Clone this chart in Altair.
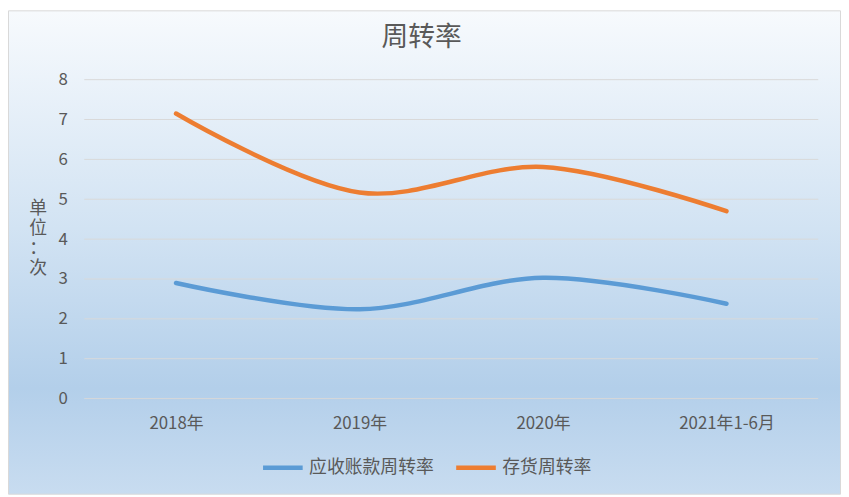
import altair as alt
import pandas as pd

categories = ["2018年", "2019年", "2020年", "2021年1-6月"]
receivable_turnover = [2.90, 2.24, 3.03, 2.38]
inventory_turnover = [7.15, 5.17, 5.81, 4.70]
series_names = ["应收账款周转率", "存货周转率"]
series_colors = ["#5B9BD5", "#ED7D31"]
y_ticks = [0, 1, 2, 3, 4, 5, 6, 7, 8]

FONT = "Noto Sans CJK SC"
TEXT = "#595959"
W, H = 741, 322
PL, PT, PR, PB = 77, 70, 23, 97

rows = []
for c, a, b in zip(categories, receivable_turnover, inventory_turnover):
    rows.append({"cat": c, "series": series_names[0], "value": a})
    rows.append({"cat": c, "series": series_names[1], "value": b})
df = pd.DataFrame(rows)
grid_df = pd.DataFrame({"value": y_ticks})
bg_df = pd.DataFrame({"k": [0]})

y_scale = alt.Scale(domain=[0, 8], nice=False, zero=True)
y_axis = alt.Axis(
    values=y_ticks, grid=False, domain=False, ticks=False, zindex=2,
    labelFontSize=17, labelColor=TEXT, labelPadding=17, labelFont=FONT,
    title=["单", "位", "：", "次"], titleAngle=0, titleX=-47, titleY=130,
    titleAlign="center", titleBaseline="middle", titleLineHeight=20.3,
    titleFontSize=18, titleColor=TEXT, titleFontWeight="normal", titleFont=FONT,
)

gradient = alt.LinearGradient(
    gradient="linear", x1=0, y1=0, x2=0, y2=1,
    stops=[
        alt.GradientStop(offset=0, color="#f7fafd"),
        alt.GradientStop(offset=0.45, color="#d2e3f3"),
        alt.GradientStop(offset=0.78, color="#b3cfea"),
        alt.GradientStop(offset=1, color="#c8dcf0"),
    ],
)

bg = alt.Chart(bg_df).mark_rect(fill=gradient, stroke="#d9d9d9", strokeWidth=1).encode(
    x=alt.value(-PL + 0.5), x2=alt.value(W + PR - 0.5),
    y=alt.value(-PT + 0.5), y2=alt.value(H + PB - 0.5),
)

grid = alt.Chart(grid_df).mark_rule(color="#d9d9d9", strokeWidth=1).encode(
    y=alt.Y("value:Q", scale=y_scale, axis=y_axis),
    x=alt.value(0), x2=alt.value(W),
)

lines = alt.Chart(df).mark_line(
    interpolate="catmull-rom", strokeWidth=4.5, strokeCap="round"
).encode(
    x=alt.X("cat:N", sort=categories, scale=alt.Scale(type="point", padding=0.5),
            axis=alt.Axis(title=None, labelAngle=0, domain=False, ticks=False, grid=False,
                          zindex=2, labelFontSize=17, labelColor=TEXT, labelPadding=17,
                          labelFont=FONT)),
    y=alt.Y("value:Q", scale=y_scale, axis=y_axis),
    color=alt.Color("series:N", scale=alt.Scale(domain=series_names, range=series_colors),
                    sort=series_names,
                    legend=alt.Legend(
                        title=None, orient="none", legendX=178, legendY=369, zindex=2,
                        direction="horizontal", symbolType="stroke", symbolSize=1600,
                        symbolStrokeWidth=4.5, labelFontSize=18, labelColor=TEXT,
                        labelFont=FONT, labelOffset=4, columnPadding=13, padding=0,
                    )),
)

chart = alt.layer(bg, grid, lines).properties(
    width=W, height=H,
    title=alt.TitleParams("周转率", fontSize=27, color=TEXT, fontWeight="normal", font=FONT,
                          anchor="middle", frame="group", dx=-30, offset=0, dy=69,
                          baseline="bottom", zindex=2),
    padding={"left": PL, "top": PT, "right": PR, "bottom": PB},
    autosize=alt.AutoSizeParams(type="none"),
).configure_view(stroke=None).configure(font=FONT)

chart.save("out.html", embed_options={"renderer": "svg", "actions": False})
